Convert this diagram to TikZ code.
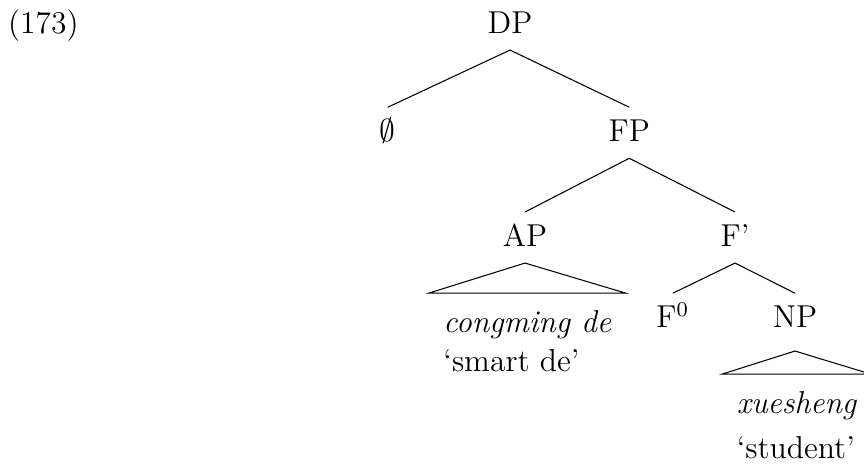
\documentclass[tikz,border=0pt,12pt]{standalone}
\usepackage{tikz}

\begin{document}
\begin{tikzpicture}[
  cat/.style={anchor=base, text height=1.6ex, text depth=0.25ex, inner sep=4.7pt},
  roofword/.style={anchor=base, text height=1.6ex, inner xsep=5.3pt, inner ysep=6.3pt, font=\itshape},
  gloss/.style={anchor=base west, inner xsep=5.3pt}]
  \useasboundingbox (0,0) rectangle (11.52,6.24);

  % Example number
  \node[anchor=base west, inner sep=0pt] (exnum) at (0.1,5.79) {(173)};

  % Categories
  \node[cat] (dp) at (6.80,5.79) {DP};
  \node[cat] (null) at (5.17,4.347) {$\emptyset$};
  \node[cat] (fp) at (8.39,4.347) {FP};
  \node[cat] (ap) at (7.00,2.95) {AP};
  \node[cat] (fbar) at (9.80,2.95) {F'};
  \node[cat] (fzero) at (8.97,1.867) {F$^0$};
  \node[cat] (np) at (10.60,1.867) {NP};

  % Branches
  \draw (dp.south) -- (null.north);
  \draw (dp.south) -- (fp.north);
  \draw (fp.south) -- (ap.north);
  \draw (fp.south) -- (fbar.north);
  \draw (fbar.south) -- (fzero.north);
  \draw (fbar.south) -- (np.north);

  % AP roof
  \node[roofword] (apword) at (7.03,1.813) {congming de};
  \node[gloss] (apgloss) at ([yshift=-0.533cm]apword.base west) {`smart de'};
  \draw (ap.south) -- (apword.north west) -- (apword.north east) -- cycle;

  % NP roof
  \node[roofword] (npword) at (10.62,0.733) {xuesheng};
  \node[gloss] (npgloss) at ([yshift=-0.6cm]npword.base west) {`student'};
  \draw ([yshift=-0.09cm]np.south) -- (npword.north west) -- (npword.north east) -- cycle;
\end{tikzpicture}
\end{document}
